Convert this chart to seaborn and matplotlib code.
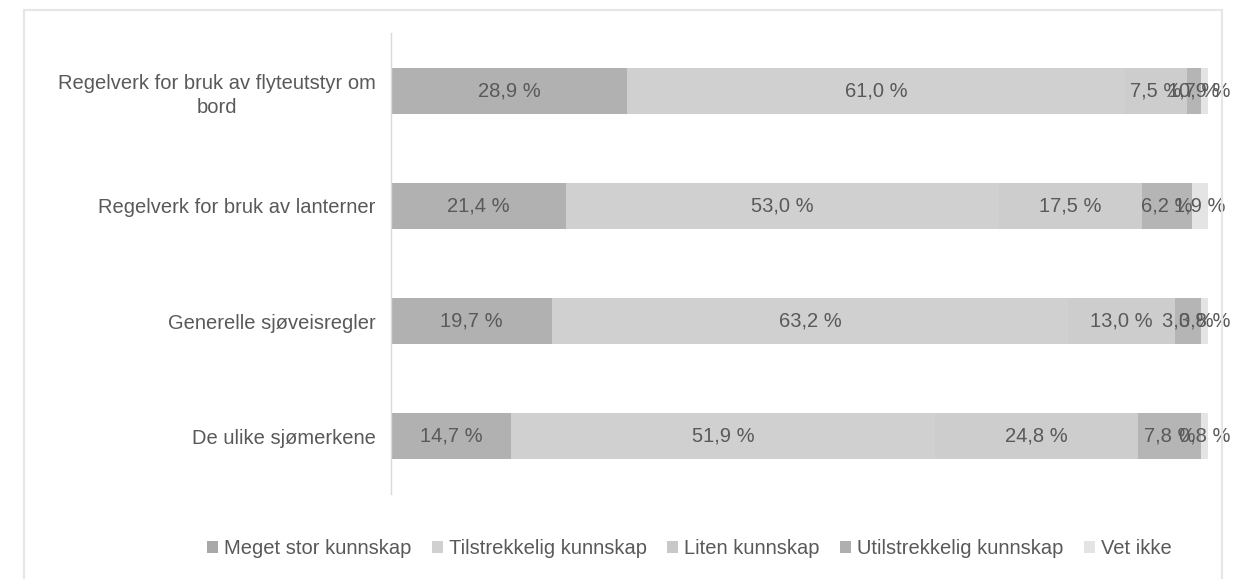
"""Stacked horizontal bar chart: knowledge of rules at sea."""
import numpy as np
import pandas as pd
import matplotlib
matplotlib.use("Agg")
import matplotlib.pyplot as plt
from matplotlib.patches import Patch, Rectangle
import seaborn as sns

categories = [
    "Regelverk for bruk av flyteutstyr om\nbord",
    "Regelverk for bruk av lanterner",
    "Generelle sjøveisregler",
    "De ulike sjømerkene",
]
series_names = [
    "Meget stor kunnskap",
    "Tilstrekkelig kunnskap",
    "Liten kunnskap",
    "Utilstrekkelig kunnskap",
    "Vet ikke",
]
meget_stor = [28.9, 21.4, 19.7, 14.7]
tilstrekkelig = [61.0, 53.0, 63.2, 51.9]
liten = [7.5, 17.5, 13.0, 24.8]
utilstrekkelig = [1.7, 6.2, 3.3, 7.8]
vet_ikke = [0.9, 1.9, 0.8, 0.8]

bar_colors = ["#b1b1b1", "#d0d0d0", "#cdcdcd", "#b5b5b5", "#e4e4e4"]
legend_colors = ["#a8a8a8", "#d0d0d0", "#c8c8c8", "#afafaf", "#e4e4e4"]
text_color = "#595959"
fs = 14.5


def main():
    sns.set_theme(style="white")
    plt.rcParams["font.family"] = ["Liberation Sans", "DejaVu Sans"]

    values = np.array([meget_stor, tilstrekkelig, liten, utilstrekkelig, vet_ikke])
    cum = values.cumsum(axis=0)
    df = pd.DataFrame({"kategori": categories})
    for i, name in enumerate(series_names):
        df[name] = cum[i]

    fig = plt.figure(figsize=(12.42, 5.79), dpi=100)
    ax = fig.add_axes([391 / 1242, 1 - 494 / 579, (1208 - 391) / 1242, 461 / 579])

    # draw cumulative totals back to front so each series shows as a segment
    for i in reversed(range(len(series_names))):
        sns.barplot(data=df, x=series_names[i], y="kategori", color=bar_colors[i],
                    saturation=1, width=0.4, orient="h", linewidth=0, ax=ax)

    # value labels centred in each segment
    for i in range(len(series_names)):
        for j in range(len(categories)):
            mid = cum[i, j] - values[i, j] / 2
            ax.text(mid, j, f"{values[i, j]:.1f} %".replace(".", ","),
                    ha="center", va="center", fontsize=fs, color=text_color)

    ax.set_xlim(0, 100)
    ax.set_ylim(3.5, -0.5)
    ax.set_xlabel("")
    ax.set_ylabel("")
    ax.set_xticks([])
    ax.tick_params(axis="y", length=0, pad=11, labelsize=fs, labelcolor=text_color)
    for lab in ax.get_yticklabels():
        lab.set_multialignment("center")
        lab.set_linespacing(1.35)
    for side in ["top", "right", "bottom"]:
        ax.spines[side].set_visible(False)
    ax.spines["left"].set_color("#d9d9d9")
    ax.spines["left"].set_linewidth(1)

    handles = [Patch(facecolor=c, edgecolor="none", label=n)
               for c, n in zip(legend_colors, series_names)]
    fig.legend(handles=handles, loc="center", bbox_to_anchor=(0.555, 1 - 549 / 579),
               ncol=5, frameon=False, fontsize=fs, handlelength=0.55, handleheight=0.55,
               handletextpad=0.3, columnspacing=1.0, labelcolor=text_color)

    # light chart-area frame, open at the bottom edge of the picture
    fig.patches.append(Rectangle((24 / 1242, -0.05), (1222 - 24) / 1242, 1 - 10 / 579 + 0.05,
                                 transform=fig.transFigure, fill=False,
                                 edgecolor="#e6e6e6", linewidth=1.5))

    fig.savefig("out.png", dpi=100)
    plt.close(fig)


if __name__ == "__main__":
    main()
